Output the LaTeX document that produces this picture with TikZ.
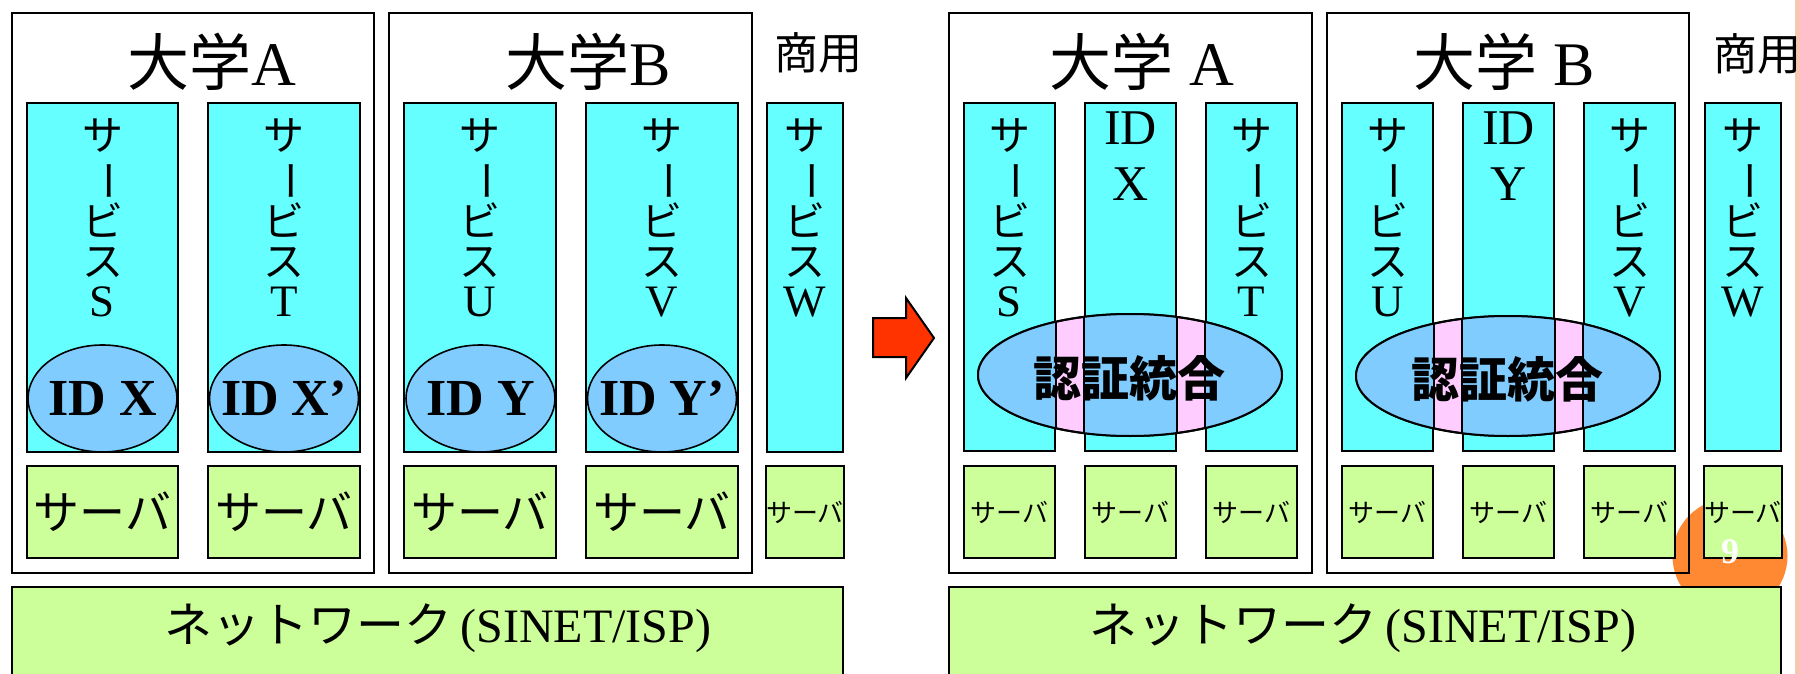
\documentclass[tikz,border=0pt]{standalone}
\usepackage{fontspec}
\usepackage{graphicx}
\setmainfont{Liberation Serif}
\newfontfamily\jp{Noto Sans CJK JP}
\usetikzlibrary{shapes.geometric}
\definecolor{cyanbox}{HTML}{66FFFF}
\definecolor{greenbox}{HTML}{CCFF99}
\definecolor{idblue}{HTML}{80CCFF}
\definecolor{pinkE}{HTML}{FFCCFF}
\definecolor{arrowred}{HTML}{FF3300}
\definecolor{numorange}{HTML}{FF8833}
\definecolor{edgepink}{HTML}{F9C6B4}
\newcommand\rbox[7]{\node[#1, minimum width={(#5-#3)*1pt}, minimum height={(#6-#4)*1pt}] (#2) at ({(#3+#5)/2},{(#4+#6)/2}) {#7};}
\newcommand\vbar{\rotatebox[origin=c]{-90}{ー}}
\newcommand\lat[1]{{\rmfamily\fontsize{45}{40}\selectfont #1}}
\newcommand\vsvc[1]{サ\\\vbar\\ビ\\ス\\\lat{#1}}
\tikzset{
  univ/.style={draw=black, line width=2pt, rectangle, inner sep=0pt},
  svc/.style={draw=black, fill=cyanbox, line width=2pt, rectangle, inner sep=0pt},
  srv/.style={draw=black, fill=greenbox, line width=2pt, rectangle, inner sep=0pt},
  srvbig/.style={srv, font=\jp\fontsize{46}{46}\selectfont},
  srvsmall/.style={srv, font=\jp\fontsize{26}{26}\selectfont},
  net/.style={srv},
  nettext/.style={inner sep=0pt, font=\fontsize{48}{48}\selectfont},
  idell/.style={ellipse, draw=black, fill=idblue, line width=1.6pt, inner sep=0pt,
    minimum width=149pt, minimum height=107pt},
  idlabel/.style={inner sep=0pt, font=\fontsize{52}{52}\selectfont\bfseries},
  authell/.style={ellipse, draw=black, fill=pinkE, line width=2pt, inner sep=0pt, minimum width=304pt},
  authtext/.style={inner sep=0pt, font=\jp\bfseries\fontsize{48}{48}\selectfont},
  vtext/.style={anchor=north, align=center, inner sep=0pt, font=\jp\fontsize{41}{40}\selectfont},
  idtext/.style={anchor=north, align=center, inner sep=0pt, font=\rmfamily\fontsize{50}{56}\selectfont},
  title/.style={inner sep=0pt, font=\fontsize{62}{62}\selectfont},
  comm/.style={inner sep=0pt, font=\jp\fontsize{44}{44}\selectfont},
  arrowshape/.style={fill=arrowred, draw=black, line width=2pt, line join=miter},
}
\begin{document}
\begin{tikzpicture}[x=1pt, y=-1pt]
\useasboundingbox (0,0) rectangle (1800,674);
% slide decorations
\fill[edgepink] (1795,0) rectangle (1800,674);
\node[circle, fill=numorange, minimum size=115pt, inner sep=0pt] (numc) at (1730,556) {};

% ===== left: before =====
\rbox{univ}{uA}{12}{13}{374}{573}{}
\rbox{univ}{uB}{389}{13}{752}{573}{}
\node[title] (tA) at (212,62) {{\jp 大学}A};
\node[title] (tB) at (588,62) {{\jp 大学}B};
\node[comm] (c1) at (818,53) {商用};

\rbox{svc}{sS}{27}{103}{178}{452}{}
\rbox{svc}{sT}{208}{103}{360}{452}{}
\rbox{svc}{sU}{404}{103}{556}{452}{}
\rbox{svc}{sV}{586}{103}{738}{452}{}
\rbox{svc}{sW}{767}{103}{843}{452}{}
\node[vtext] (lS) at (sS.north |- 0,118) {\vsvc{S}};
\node[vtext] (lT) at (sT.north |- 0,118) {\vsvc{T}};
\node[vtext] (lU) at (sU.north |- 0,118) {\vsvc{U}};
\node[vtext] (lV) at (sV.north |- 0,118) {\vsvc{V}};
\node[vtext] (lW) at (sW.north |- 0,118) {\vsvc{W}};

\node[idell] (eX) at (102.5,398.5) {};
\node[idell] (eX2) at (284,398.5) {};
\node[idell] (eY) at (480.5,398.5) {};
\node[idell] (eY2) at (662,398.5) {};
\node[idlabel] (eXt) at (eX) {ID X};
\node[idlabel] (eX2t) at (eX2) {ID X’};
\node[idlabel] (eYt) at (eY) {ID Y};
\node[idlabel] (eY2t) at (eY2) {ID Y’};

\rbox{srvbig}{vS}{27}{466}{178}{558}{サーバ}
\rbox{srvbig}{vT}{208}{466}{360}{558}{サーバ}
\rbox{srvbig}{vU}{404}{466}{556}{558}{サーバ}
\rbox{srvbig}{vV}{586}{466}{738}{558}{サーバ}
\rbox{srvsmall}{vW}{767}{466}{843}{558}{サーバ}

\rbox{net}{nL}{12}{587}{843}{680}{}
\node[nettext] (nLt) at (438,628) {{\jp ネットワーク}\,(SINET/ISP)};

% arrow
\draw[arrowshape] (873,318) -- (906,318) -- (906,298) -- (934,338) -- (906,378) -- (906,357) -- (873,357) -- cycle;

% ===== right: after =====
\rbox{univ}{uA2}{949}{13}{1312}{573}{}
\rbox{univ}{uB2}{1327}{13}{1689}{573}{}
\node[title] (tA2) at (1142,62) {{\jp 大学} A};
\node[title] (tB2) at (1504,62) {{\jp 大学} B};
\node[comm] (c2) at (1757,54) {商用};

\rbox{svc}{sS2}{964}{103}{1055}{451}{}
\rbox{svc}{iX}{1085}{103}{1176}{451}{}
\rbox{svc}{sT2}{1206}{103}{1297}{451}{}
\rbox{svc}{sU2}{1342}{103}{1433}{451}{}
\rbox{svc}{iY}{1463}{103}{1554}{451}{}
\rbox{svc}{sV2}{1584}{103}{1675}{451}{}
\rbox{svc}{sW2}{1705}{103}{1781}{451}{}
\node[vtext] (lS2) at (sS2.north |- 0,118) {\vsvc{S}};
\node[idtext] (lX) at (iX.north |- 0,112) {ID\\X};
\node[vtext] (lT2) at (sT2.north |- 0,118) {\vsvc{T}};
\node[vtext] (lU2) at (sU2.north |- 0,118) {\vsvc{U}};
\node[idtext] (lY) at (iY.north |- 0,112) {ID\\Y};
\node[vtext] (lV2) at (sV2.north |- 0,118) {\vsvc{V}};
\node[vtext] (lW2) at (sW2.north |- 0,118) {\vsvc{W}};

% authentication integration ellipses
\node[authell, minimum height=122pt] (aA) at (1130,375) {};
\begin{scope}
  \clip (1130,375) ellipse [x radius=152pt, y radius=61pt];
  \foreach \n in {sS2,iX,sT2} {
    \fill[idblue] (\n.north west) rectangle (\n.south east);
    \draw[black, line width=1.5pt] (\n.north west) rectangle (\n.south east);
  }
\end{scope}
\draw[line width=2pt] (1130,375) ellipse [x radius=152pt, y radius=61pt];
\node[authtext] (aAt) at (1129,378) {認証統合};

\node[authell, minimum height=120pt] (aB) at (1508,376) {};
\begin{scope}
  \clip (1508,376) ellipse [x radius=152pt, y radius=60pt];
  \foreach \n in {sU2,iY,sV2} {
    \fill[idblue] (\n.north west) rectangle (\n.south east);
    \draw[black, line width=1.5pt] (\n.north west) rectangle (\n.south east);
  }
\end{scope}
\draw[line width=2pt] (1508,376) ellipse [x radius=152pt, y radius=60pt];
\node[authtext] (aBt) at (1507,379) {認証統合};

\rbox{srvsmall}{vS2}{964}{466}{1055}{558}{サーバ}
\rbox{srvsmall}{vX}{1085}{466}{1176}{558}{サーバ}
\rbox{srvsmall}{vT2}{1206}{466}{1297}{558}{サーバ}
\rbox{srvsmall}{vU2}{1342}{466}{1433}{558}{サーバ}
\rbox{srvsmall}{vY}{1463}{466}{1554}{558}{サーバ}
\rbox{srvsmall}{vV2}{1584}{466}{1675}{558}{サーバ}
\rbox{srvsmall}{vW2}{1705}{466}{1781}{558}{サーバ}

\rbox{net}{nR}{949}{587}{1781}{680}{}
\node[nettext] (nRt) at (1363,628) {{\jp ネットワーク}\,(SINET/ISP)};

\node[inner sep=0pt, text=white, font=\bfseries\fontsize{36}{36}\selectfont] (num) at (1730,552) {9};
\end{tikzpicture}
\end{document}
